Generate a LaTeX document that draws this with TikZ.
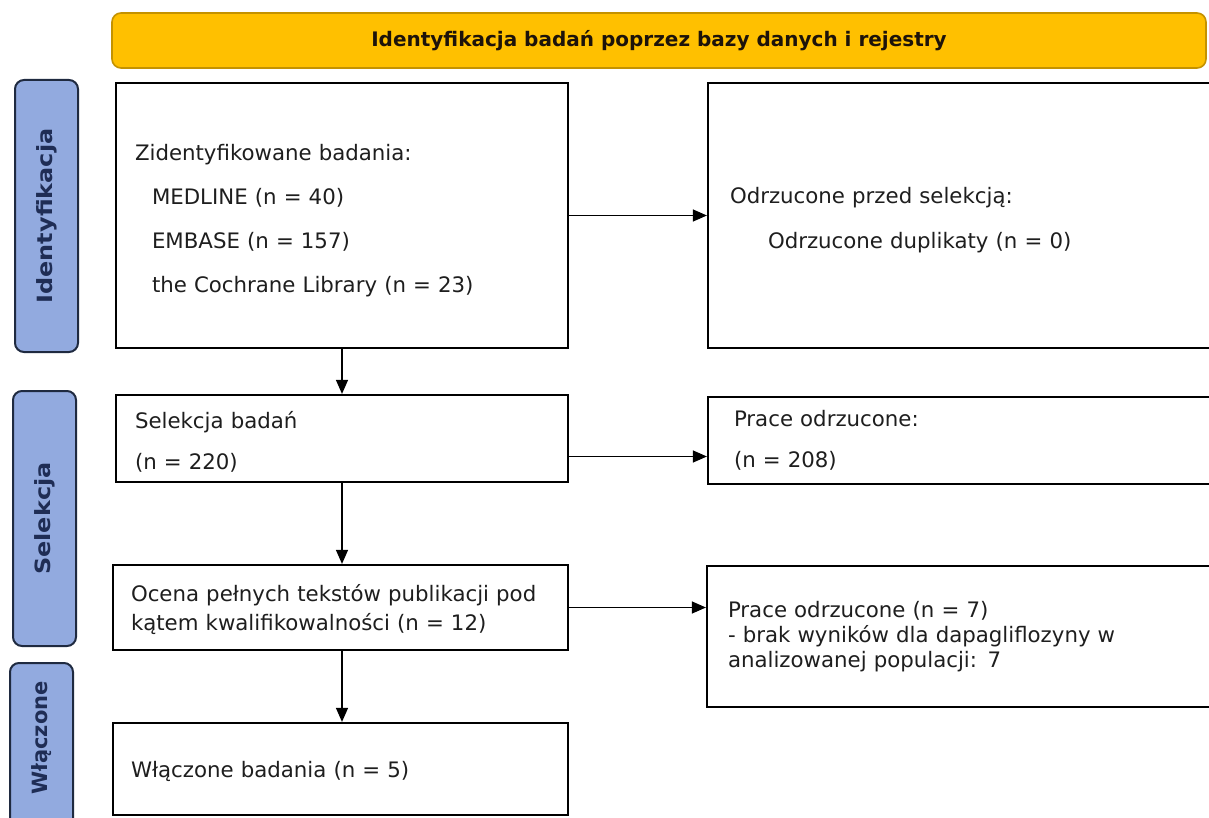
\documentclass[tikz,border=0pt]{standalone}
\usepackage{fontspec}
\setmainfont{DejaVu Sans}
\usetikzlibrary{arrows.meta,calc}
\definecolor{barfill}{HTML}{FFC000}
\definecolor{barline}{HTML}{C49200}
\definecolor{sidefill}{HTML}{92AADF}
\definecolor{sideline}{HTML}{1F2A40}
\definecolor{sidetext}{HTML}{1F2D55}
\definecolor{bodytext}{HTML}{1E1E1E}
\begin{document}
\begin{tikzpicture}[x=1pt,y=-1pt,
  box/.style={draw=black,line width=2.2pt,fill=white,rectangle,inner xsep=0pt,inner ysep=0pt,
     align=left,text=bodytext,font=\fontsize{21.3}{25}\selectfont},
  side/.style={draw=sideline,line width=2pt,fill=sidefill,rounded corners=9pt,rectangle,
     minimum width=63pt,text=sidetext,font=\bfseries\fontsize{21}{24}\selectfont},
  arr/.style={line width=1.2pt,draw=black,-{Triangle[length=14pt,width=12pt]}},
]
\path[use as bounding box,clip] (0,0) rectangle (1209,818);
\fill[white] (0,0) rectangle (1209,818);

% title bar
\node[draw=barline,line width=1.6pt,fill=barfill,rounded corners=9pt,minimum width=1094pt,minimum height=55pt,
  text=black!85!brown,font=\bfseries\fontsize{20}{24}\selectfont] (title) at (659,40.5)
  {Identyfikacja badań poprzez bazy danych i rejestry};

% side labels
\node[side,minimum height=272pt] (sA) at (46.5,216) {\rotatebox{90}{\scalebox{1.14}[1]{Identyfikacja}}};
\node[side,minimum height=255pt] (sB) at (44.5,518.5) {\rotatebox{90}{\scalebox{1.14}[1]{Selekcja}}};
\node[side,minimum height=190pt] (sC) at (41.5,758) {\rotatebox{90}{\hspace{40pt}Włączone}};

% boxes
\node[box,minimum width=452pt,minimum height=265pt,text width=414pt] (B1) at (342,215.5)
  {\rule{0pt}{27pt}Zidentyfikowane badania:\\[19pt]
   \hspace{17pt}MEDLINE (n = 40)\\[19pt]
   \hspace{17pt}EMBASE (n = 157)\\[19pt]
   \hspace{17pt}the Cochrane Library (n = 23)};
\node[box,minimum width=540pt,minimum height=265pt,text width=496pt] (R1) at (978,215.5)
  {\rule{0pt}{25pt}Odrzucone przed selekcją:\\[20pt]
   \hspace{38pt}Odrzucone duplikaty (n = 0)};

\node[box,minimum width=452pt,minimum height=87pt,text width=414pt] (B2) at (342,438.5)
  {\rule{0pt}{24pt}Selekcja badań\\[16pt]
   (n = 220)};
\node[box,minimum width=540pt,minimum height=87pt,text width=488pt] (R2) at (978,440.5)
  {Prace odrzucone:\\[16pt]
   (n = 208)};

\node[box,minimum width=455pt,minimum height=85pt,text width=419pt] (B3) at (340.5,607.5)
  {\rule{0pt}{22pt}Ocena pełnych tekstów publikacji pod\\[4pt]
   kątem kwalifikowalności (n = 12)};
\node[box,minimum width=540pt,minimum height=141pt,text width=498pt] (R3) at (977,636.5)
  {Prace odrzucone (n = 7)\\[0pt]
   - brak wyników dla dapagliflozyny w\\[0pt]
   analizowanej populacji: 7\\[10pt]};

\node[box,minimum width=455pt,minimum height=92pt,text width=419pt] (B4) at (340.5,769)
  {\rule{0pt}{22pt}Włączone badania (n = 5)};

% connectors
\draw[arr] (B1.south) -- (B1.south |- B2.north);
\draw[arr] (B2.south) -- (B2.south |- B3.north);
\draw[arr] (B3.south -| B2.south) -- (B2.south |- B4.north);
\draw[arr] (B1.east) -- (B1.east -| R1.west);
\draw[arr] ([yshift=-18pt]B2.east) -- ([yshift=-18pt]B2.east -| R2.west);
\draw[arr] (B3.east) -- (B3.east -| R3.west);
\end{tikzpicture}
\end{document}
